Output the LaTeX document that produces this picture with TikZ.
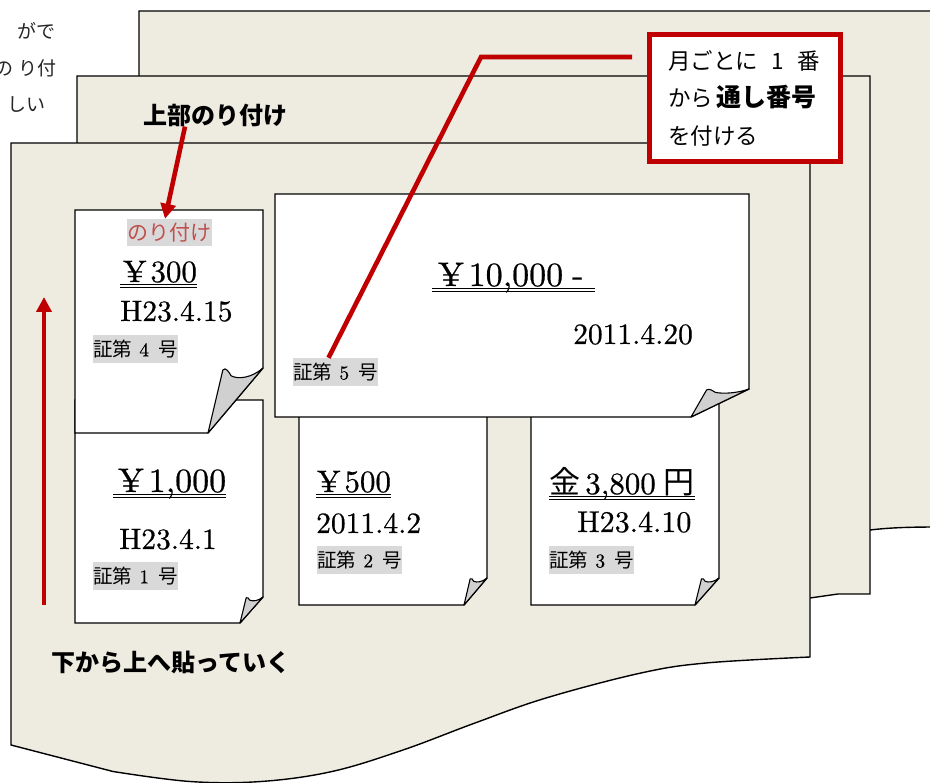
\documentclass[tikz,border=0pt]{standalone}
\usepackage{fontspec}
\setmainfont{lmroman10-regular}[Extension=.otf, FakeBold=0.6]
\newfontfamily\jp{Noto Sans CJK JP}
\usetikzlibrary{arrows.meta}

\definecolor{paper}{HTML}{EEECE1}
\definecolor{markred}{HTML}{C00000}
\definecolor{pastered}{HTML}{C0504D}
\definecolor{tagbg}{HTML}{D9D9D9}
\definecolor{flapgray}{HTML}{D0D0D0}

\tikzset{
  sheet/.style={fill=paper, draw=black, line width=1.4pt},
  slip/.style={fill=white, draw=black, line width=1.4pt},
  curlflap/.style={fill=flapgray, draw=black, line width=1.1pt, line join=round},
  numtag/.style={fill=tagbg, inner xsep=0.5pt, inner ysep=0pt, minimum height=28pt,
                 font=\fontsize{19.5}{19.5}\selectfont},
  sumtext/.style={inner sep=0pt, anchor=base west},
  daytext/.style={inner sep=0pt, anchor=base west, font=\fontsize{29.5}{29.5}\selectfont},
  dblrule/.style={line width=1.1pt},
  redline/.style={draw=markred, line width=4.6pt},
  redarrow/.style={draw=markred, line width=4.6pt, -{Triangle[width=15pt,length=15pt]}},
  headline/.style={inner sep=0pt, font=\jp\bfseries\fontsize{24}{24}\selectfont},
}

% curled corner of a slip: #1,#2 = lower end of the fold, #3,#4 = fold width and height
\newcommand\pagecurl[4]{%
  \begin{scope}[shift={(#1,#2)}, x={(#3pt,0pt)}, y={(0pt,#4pt)}]
    \draw[curlflap] (0,0) -- (0.27,0.97)
      .. controls (0.32,1.02) and (0.38,0.94) .. (0.42,0.88)
      .. controls (0.55,0.82) and (0.8,0.85) .. (1,1) -- cycle;
  \end{scope}}

% double underline below an amount
\newcommand\dblunder[3]{%
  \draw[dblrule] ([xshift=#2pt,yshift=-2.6pt]#1.base west) -- ([xshift=#3pt,yshift=-2.6pt]#1.base east);
  \draw[dblrule] ([xshift=#2pt,yshift=-5.8pt]#1.base west) -- ([xshift=#3pt,yshift=-5.8pt]#1.base east);}

% receipt number label
\newcommand\slipno[1]{{\jp 証第}\hspace{7pt}#1\hspace{9pt}{\jp 号}}

\begin{document}
\begin{tikzpicture}[x=1pt,y=-1pt]
\useasboundingbox (0,0) rectangle (930,783);
\clip (0,0) rectangle (930,783);
\fill[white] (0,0) rectangle (930,783);

% note text running off the left edge
\begin{scope}[every node/.style={inner sep=0pt, text=black!85, font=\jp\fontsize{19}{19}\selectfont}]
  \node[anchor=east] (note1) at (56,31) {と\hspace{20pt}がで};
  \node[anchor=east] (note2) at (57,68) {の\hspace{5pt}り付};
  \node[anchor=east] (note3) at (46,105) {しい};
\end{scope}

% three stacked monthly sheets
\draw[sheet] (139,600) -- (139,11) -- (945,11) -- (945,527)
  .. controls (920,527) and (895,527) .. (870,530) -- (139,560) -- cycle;
\draw[sheet] (77,660) -- (77,76) -- (870,76) -- (870,594) -- (838,594) -- (810,598) -- (77,630) -- cycle;
\draw[sheet] (11,745) -- (11,143) -- (810,143) -- (810,657)
  -- plot[smooth, tension=0.6] coordinates {(810,657) (706,663) (641,673) (546,698) (475,723)
     (403,750) (332,771.5) (261,781.5) (190,781.5) (113,771.5)} -- cycle;

% slips pasted on the front sheet
\draw[slip] (75,400) -- (263,400) -- (263,597) -- (240,623) -- (75,623) -- cycle;
\pagecurl{240}{623}{23}{26}
\draw[slip] (75,210) -- (263,210) -- (263,368) -- (208,433) -- (75,433) -- cycle;
\pagecurl{208}{433}{55}{65}
\draw[slip] (299,400) -- (487,400) -- (487,578) -- (464,605) -- (299,605) -- cycle;
\pagecurl{464}{605}{23}{27}
\draw[slip] (531,400) -- (719,400) -- (719,578) -- (695,605) -- (531,605) -- cycle;
\pagecurl{695}{605}{24}{27}
\draw[slip] (275,194) -- (749,194) -- (749,389) -- (691,417) -- (275,417) -- cycle;
\pagecurl{691}{417}{58}{28}

% slip No. 4
\node[numtag, minimum height=27pt, font=\jp\fontsize{21}{21}\selectfont, text=pastered]
  (paste) at (169,232.5) {のり付け};
\node[sumtext, font=\fontsize{31}{31}\selectfont] (s300) at (123,282) {¥\hspace{4pt}300};
\dblunder{s300}{-3}{0}
\node[daytext] (d4) at (120,321) {H23.4.15};
\node[numtag] (t4) at (135.5,349) {\slipno{4}};

% slip No. 1
\node[sumtext, font=\fontsize{34}{34}\selectfont] (s1000) at (118,492) {¥\hspace{5pt}1,000};
\dblunder{s1000}{-5}{0}
\node[daytext] (d1) at (119,549) {H23.4.1};
\node[numtag] (t1) at (135.5,576) {\slipno{1}};

% slip No. 5
\node[sumtext, font=\fontsize{34}{34}\selectfont] (s10000) at (438,286) {¥\hspace{5pt}10,000\hspace{9pt}-};
\dblunder{s10000}{-6}{11}
\node[daytext] (d5) at (573,344) {2011.4.20};
\node[numtag] (t5) at (335.5,372) {\slipno{5}};

% slip No. 2
\node[sumtext, font=\fontsize{31}{31}\selectfont] (s500) at (317,492) {¥\hspace{4pt}500};
\dblunder{s500}{-1}{0}
\node[daytext] (d2) at (316,533) {2011.4.2};
\node[numtag] (t2) at (359.5,560) {\slipno{2}};

% slip No. 3
\node[sumtext, font=\fontsize{31}{31}\selectfont] (s3800) at (549,494) {{\jp 金}\hspace{5pt}3,800\hspace{8pt}{\jp 円}};
\dblunder{s3800}{0}{0}
\node[daytext, font=\fontsize{30}{30}\selectfont] (d3) at (577,532) {H23.4.10};
\node[numtag] (t3) at (591.5,560) {\slipno{3}};

% headings
\node[headline] (top) at (215,115) {上部のり付け};
\node[headline] (order) at (171,662) {下から上へ貼っていく};

% callout
\node[draw=markred, line width=5pt, fill=white, outer sep=0pt, inner sep=0pt,
      minimum width=191pt, minimum height=127pt] (callout) at (745,98) {};
\node[anchor=west, inner sep=0pt, align=left, font=\jp\fontsize{22.5}{37.5}\selectfont]
  (callouttext) at ([xshift=18.5pt]callout.west)
  {月ごとに\hspace{13pt}1\hspace{14pt}番\\から\hspace{3pt}{\bfseries\fontsize{25}{37.5}\selectfont 通し番号}\\を付ける};

% connectors
\coordinate (lead) at ([xshift=-17.5pt,yshift=-22.5pt]callout.north west);
\coordinate (bend) at (481,57);
\draw[redline] (lead) -- (bend) -- ([xshift=-7pt]t5.north);
\draw[redarrow] ([xshift=-30pt]top.south) -- ([xshift=-4pt]paste.north);
\coordinate (upfrom) at (44,605);
\coordinate (upto) at (44,297);
\draw[redarrow] (upfrom) -- (upto);
\end{tikzpicture}
\end{document}
